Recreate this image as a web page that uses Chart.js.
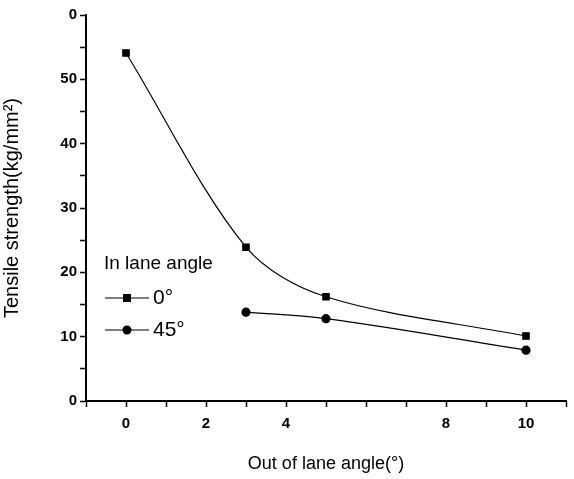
<!DOCTYPE html>
<html>
<head>
<meta charset="utf-8">
<script src="https://cdn.jsdelivr.net/npm/chart.js@4/dist/chart.umd.min.js"></script>
<style>
  html, body { margin: 0; padding: 0; background: #fff; }
  canvas { display: block; }
</style>
</head>
<body>
<canvas id="chart" width="574" height="479"></canvas>
<script>
// out of lane angle (deg)
const angles0 = [0, 3, 5, 10];
const strength0 = [54.1, 23.9, 16.2, 10.1];
const angles45 = [3, 5, 10];
const strength45 = [13.8, 12.8, 7.9];

const seriesNames = ["0°", "45°"];
const legendTitle = "In lane angle";
const xLabelled = [0, 2, 4, 8, 10];
const yTickLabels = ["0", "10", "20", "30", "40", "50", "0"];

const FONT = "'Liberation Sans', Arial, sans-serif";

// legend drawn by hand: line - marker - line, like the original
const handLegend = {
  id: "handLegend",
  afterDraw(chart) {
    const ctx = chart.ctx;
    ctx.save();
    ctx.fillStyle = "#000";
    ctx.strokeStyle = "#000";
    ctx.textBaseline = "middle";
    ctx.font = "19px " + FONT;
    ctx.fillText(legendTitle, 104, 264);
    const rows = [298, 330];
    chart.data.datasets.forEach((ds, i) => {
      const y = rows[i];
      ctx.lineWidth = 1.2;
      ctx.beginPath();
      ctx.moveTo(105, y);
      ctx.lineTo(149, y);
      ctx.stroke();
      if (ds.pointStyle === "rect") {
        ctx.fillRect(123, y - 4, 8, 8);
      } else {
        ctx.beginPath();
        ctx.arc(127, y, 4.5, 0, Math.PI * 2);
        ctx.fill();
      }
      ctx.font = "21px " + FONT;
      ctx.fillText(seriesNames[i], 153, y);
    });
    ctx.restore();
  }
};

new Chart(document.getElementById("chart"), {
  type: "line",
  data: {
    datasets: [
      {
        label: seriesNames[0],
        data: angles0.map((a, i) => ({ x: a, y: strength0[i] })),
        borderColor: "#000",
        backgroundColor: "#000",
        borderWidth: 1.2,
        pointStyle: "rect",
        pointRadius: 4.5,
        tension: 0.32,
        fill: false
      },
      {
        label: seriesNames[1],
        data: angles45.map((a, i) => ({ x: a, y: strength45[i] })),
        borderColor: "#000",
        backgroundColor: "#000",
        borderWidth: 1.2,
        pointStyle: "circle",
        pointRadius: 4,
        tension: 0.4,
        fill: false
      }
    ]
  },
  options: {
    responsive: false,
    animation: false,
    layout: { padding: { top: 15, right: 0, left: 0, bottom: 0 } },
    plugins: {
      legend: { display: false },
      tooltip: { enabled: false }
    },
    scales: {
      x: {
        type: "linear",
        min: -1,
        max: 11,
        afterFit: (s) => { s.height = 78; },
        border: { display: true, color: "#000", width: 2 },
        grid: { drawOnChartArea: false, tickLength: 6, tickColor: "#000", tickWidth: 1.5 },
        ticks: {
          stepSize: 1,
          padding: 8,
          color: "#000",
          font: { family: FONT, size: 15, weight: "bold" },
          callback: (v) => (xLabelled.includes(v) ? String(v) : "")
        },
        title: {
          display: true,
          text: "Out of lane angle(°)",
          color: "#000",
          font: { family: FONT, size: 18 },
          padding: { top: 0, bottom: 4 }
        }
      },
      y: {
        min: 0,
        max: 60,
        afterFit: (s) => { s.width = 86; },
        border: { display: true, color: "#000", width: 2 },
        grid: { drawOnChartArea: false, tickLength: 6, tickColor: "#000", tickWidth: 1.5 },
        ticks: {
          stepSize: 5,
          padding: 3,
          color: "#000",
          font: { family: FONT, size: 15, weight: "bold" },
          callback: (v) => (v % 10 === 0 ? yTickLabels[v / 10] : "")
        },
        title: {
          display: true,
          text: "Tensile strength(kg/mm²)",
          color: "#000",
          font: { family: FONT, size: 20 },
          padding: { top: 0, bottom: 4 }
        }
      }
    }
  },
  plugins: [handLegend]
});
</script>
</body>
</html>
